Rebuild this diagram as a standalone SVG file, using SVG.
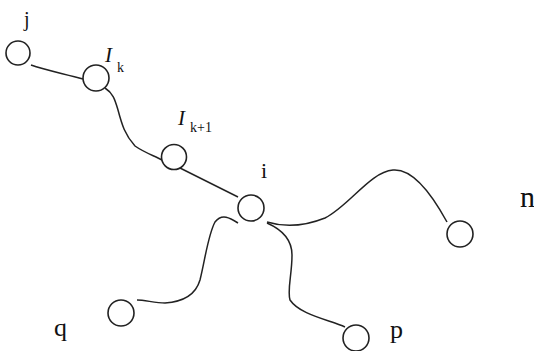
<svg xmlns="http://www.w3.org/2000/svg" width="534" height="351" viewBox="0 0 534 351">
<style>
.n{fill:#fff;stroke:#222;stroke-width:1.6}
.e{fill:none;stroke:#222;stroke-width:1.5}
text{font-family:"Liberation Serif","Times New Roman",serif;fill:#111}
.it{font-style:italic}
</style>
<rect width="534" height="351" fill="#fff"/>
<g id="connectors">
<path class="e" d="M31,65 C45,70 65,74 83,79"/>
<path class="e" d="M105,88 C113,93 115,100 118,110 C122,125 125,135 135,146 C145,153 155,156 162,160"/>
<path class="e" d="M180,168 L238,197"/>
<path class="e" d="M267,222 C280,226 300,228 325,218 C350,205 370,172 393,170 C415,168 435,200 447,222"/>
<path class="e" d="M267,223 C283,230 292,240 292,255 C292,275 287,290 290,300 C300,315 330,320 345,327"/>
<path class="e" d="M238,223 C230,218 222,213 215,222 C208,235 205,260 200,280 C195,297 180,302 165,303 C155,303 145,300 137,300"/>
</g>
<g id="node-j"><circle class="n" cx="18" cy="53" r="12"/><text x="24" y="26" font-size="20">j</text></g>
<g id="node-Ik"><circle class="n" cx="96" cy="78" r="13"/><text x="105" y="62" font-size="21" class="it">I</text><text x="117" y="72" font-size="14">k</text></g>
<g id="node-Ik1"><circle class="n" cx="174" cy="157" r="12.5"/><text x="178" y="125" font-size="21" class="it">I</text><text x="190" y="132" font-size="14">k+1</text></g>
<g id="node-i"><circle class="n" cx="251" cy="208" r="13"/><text x="261" y="178" font-size="22">i</text></g>
<g id="node-n"><circle class="n" cx="460" cy="234" r="13"/><text x="520" y="207" font-size="30">n</text></g>
<g id="node-q"><circle class="n" cx="121" cy="313" r="13"/><text x="54" y="336" font-size="26">q</text></g>
<g id="node-p"><circle class="n" cx="356" cy="338" r="13"/><text x="390" y="338" font-size="26">p</text></g>
</svg>
